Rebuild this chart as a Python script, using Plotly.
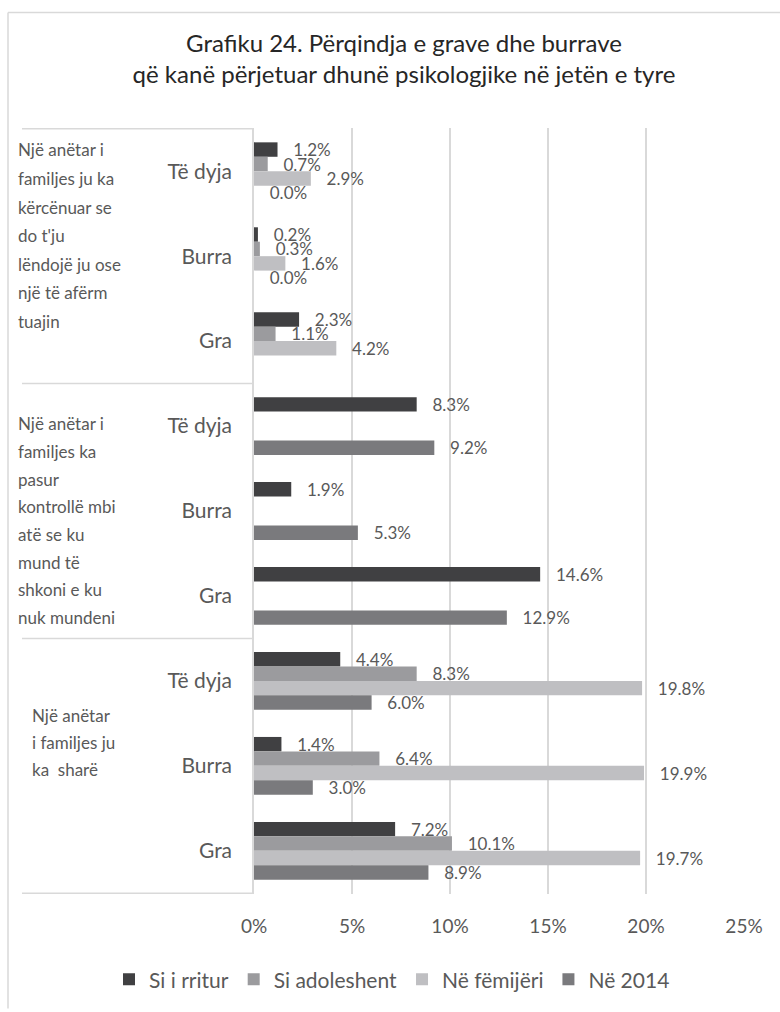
import plotly.graph_objects as go

# categories
subgroups = ["Të dyja", "Burra", "Gra"]
group_keys = ["kercenim", "kontroll", "share"]
group_lines = [
    ["Një anëtar i", "familjes ju ka", "kërcënuar se", "do t'ju", "lëndojë ju ose", "një të afërm", "tuajin"],
    ["Një anëtar i", "familjes ka", "pasur", "kontrollë mbi", "atë se ku", "mund të", "shkoni e ku", "nuk mundeni"],
    ["Një anëtar", "i familjes ju", "ka  sharë"],
]

# series values (%), in category order: group x (Të dyja, Burra, Gra)
si_i_rritur = [1.2, 0.2, 2.3, 8.3, 1.9, 14.6, 4.4, 1.4, 7.2]
si_adoleshent = [0.7, 0.3, 1.1, None, None, None, 8.3, 6.4, 10.1]
ne_femijeri = [2.9, 1.6, 4.2, None, None, None, 19.8, 19.9, 19.7]
ne_2014 = [0.0, 0.0, None, 9.2, 5.3, 12.9, 6.0, 3.0, 8.9]

series_names = ["Si i rritur", "Si adoleshent", "Në fëmijëri", "Në 2014"]
series_values = [si_i_rritur, si_adoleshent, ne_femijeri, ne_2014]
series_colors = ["#404042", "#9b9b9e", "#bfbfc2", "#7a7a7d"]

x_ticks = [0, 5, 10, 15, 20, 25]

FONT = "Lato"
GREY = "#595959"
LINE = "#d9d9d9"

W, H = 780, 1012
L, R, T, B = 254, 36, 128, 115
PW, PH = W - L - R, H - T - B


def px_x(px):
    return (px - L) / PW


def px_y(py):
    return (H - B - py) / PH


y_keys = [f"{g}|{s}" for g in group_keys for s in subgroups]
y_text = [s for g in group_keys for s in subgroups]

fig = go.Figure()
for name, vals, col in zip(series_names, series_values, series_colors):
    fig.add_trace(
        go.Bar(
            x=vals,
            y=y_keys,
            orientation="h",
            name=name,
            marker=dict(color=col, line=dict(width=0)),
            text=["\u2002\u2005%.1f%%" % v if v is not None else "" for v in vals],
            textposition="outside",
            textfont=dict(family=FONT, size=17, color=GREY),
            constraintext="none",
            cliponaxis=False,
            hoverinfo="skip",
        )
    )

# outer frame (only top and left edges fall inside the picture)
shapes = [
    dict(type="line", xref="paper", yref="paper", x0=px_x(8), x1=px_x(W), y0=px_y(12), y1=px_y(12),
         line=dict(color=LINE, width=1.5), layer="below"),
    dict(type="line", xref="paper", yref="paper", x0=px_x(8), x1=px_x(8), y0=px_y(12), y1=px_y(H),
         line=dict(color=LINE, width=1.5), layer="below"),
]
for yv in [-0.5, 2.5, 5.5, 8.5]:
    shapes.append(dict(type="line", xref="paper", yref="y", x0=px_x(22), x1=0, y0=yv, y1=yv,
                       line=dict(color=LINE, width=1.5)))

annotations = []
line_starts = [(16, 150, 28.7), (16, 425, 27.8), (30, 718, 27.0)]
for lines, (lx, ly, step) in zip(group_lines, line_starts):
    for i, txt in enumerate(lines):
        annotations.append(dict(
            x=px_x(lx), y=px_y(ly + i * step), xref="paper", yref="paper",
            text=txt, showarrow=False, xanchor="left", yanchor="middle",
            font=dict(family=FONT, size=17, color=GREY),
        ))

fig.update_layout(
    width=W,
    height=H,
    margin=dict(l=L, r=R, t=T, b=B),
    paper_bgcolor="white",
    plot_bgcolor="white",
    barmode="group",
    bargap=0.32,
    bargroupgap=0,
    title=dict(
        text="Grafiku 24. Përqindja e grave dhe burrave<br>që kanë përjetuar dhunë psikologjike në jetën e tyre",
        x=404 / W, xanchor="center", xref="container",
        y=1 - 52 / H, yanchor="middle", yref="container",
        font=dict(family=FONT, size=24, color="#262626"),
    ),
    xaxis=dict(
        range=[0, 25], tickvals=x_ticks, ticktext=[f"{t}%" for t in x_ticks],
        showgrid=True, gridcolor=LINE, gridwidth=1.5, zeroline=False, showline=False,
        ticks="outside", ticklen=15, tickcolor="rgba(0,0,0,0)", automargin=False,
        tickfont=dict(family=FONT, size=19, color=GREY), fixedrange=True,
    ),
    yaxis=dict(
        type="category", categoryorder="array", categoryarray=y_keys,
        tickvals=y_keys, ticktext=y_text, autorange="reversed",
        showgrid=False, zeroline=False, showline=True, linecolor=LINE, linewidth=1.5,
        ticks="outside", ticklen=16, tickcolor="rgba(0,0,0,0)", automargin=False,
        tickfont=dict(family=FONT, size=21, color=GREY), fixedrange=True,
    ),
    legend=dict(
        orientation="h", x=px_x(109), xanchor="left", y=px_y(983), yanchor="middle",
        font=dict(family=FONT, size=21, color=GREY), traceorder="normal",
    ),
    shapes=shapes,
    annotations=annotations,
)

fig.write_html("out.html", config={"displayModeBar": False},
               post_script="document.body.style.margin='0';")
